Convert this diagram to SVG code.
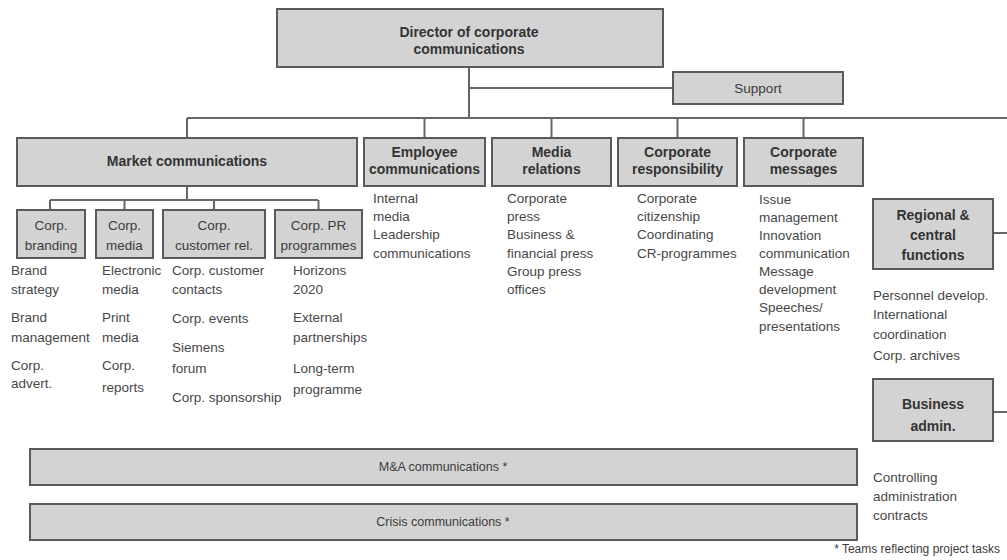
<svg xmlns="http://www.w3.org/2000/svg" width="1007" height="560" viewBox="0 0 1007 560">
  <style>
    .box { fill: #d3d3d3; stroke: #5a5a5a; stroke-width: 2; }
    .wire { fill: none; stroke: #666; stroke-width: 2; }
    .lb { font-family: "Liberation Sans", Arial, sans-serif; font-size: 14px; font-weight: bold; fill: #333; text-anchor: middle; }
    .lr { font-family: "Liberation Sans", Arial, sans-serif; font-size: 13.5px; fill: #3c3c3c; text-anchor: middle; }
    .li { font-family: "Liberation Sans", Arial, sans-serif; font-size: 13.5px; fill: #474747; }
    .bar { font-family: "Liberation Sans", Arial, sans-serif; font-size: 12.5px; fill: #3c3c3c; text-anchor: middle; }
  </style>
  <rect width="1007" height="560" fill="#fff"/>

  <g id="connectors">
    <path class="wire" d="M469 67 V118"/>
    <path class="wire" d="M469 88 H673"/>
    <path class="wire" d="M187 118 H1007"/>
    <path class="wire" d="M187 118 V138 M424.5 118 V138 M551.5 118 V138 M677.5 118 V138 M803.5 118 V138"/>
    <path class="wire" d="M187 186 V200 M50 200 H318 M50 200 V210 M124.5 200 V210 M214 200 V210 M318.5 200 V210"/>
    <path class="wire" d="M993 233 H1007 M993 412 H1007"/>
  </g>

  <g id="director">
    <rect class="box" x="277" y="9" width="386" height="58"/>
    <text class="lb" x="469" y="37">Director of corporate</text>
    <text class="lb" x="469" y="54">communications</text>
  </g>
  <g id="support">
    <rect class="box" x="673" y="72" width="170" height="32"/>
    <text class="lr" x="758" y="93">Support</text>
  </g>

  <g id="market-communications">
    <rect class="box" x="17" y="138" width="340" height="48"/>
    <text class="lb" x="187" y="166">Market communications</text>
  </g>
  <g id="employee-communications">
    <rect class="box" x="364" y="138" width="121" height="48"/>
    <text class="lb" x="424.5" y="157">Employee</text>
    <text class="lb" x="424.5" y="174">communications</text>
    <text class="li" x="373" y="203">Internal</text>
    <text class="li" x="373" y="221">media</text>
    <text class="li" x="373" y="239">Leadership</text>
    <text class="li" x="373" y="258">communications</text>
  </g>
  <g id="media-relations">
    <rect class="box" x="492" y="138" width="119" height="48"/>
    <text class="lb" x="551.5" y="157">Media</text>
    <text class="lb" x="551.5" y="174">relations</text>
    <text class="li" x="507" y="203">Corporate</text>
    <text class="li" x="507" y="221">press</text>
    <text class="li" x="507" y="239">Business &amp;</text>
    <text class="li" x="507" y="258">financial press</text>
    <text class="li" x="507" y="276">Group press</text>
    <text class="li" x="507" y="294">offices</text>
  </g>
  <g id="corporate-responsibility">
    <rect class="box" x="618" y="138" width="119" height="48"/>
    <text class="lb" x="677.5" y="157">Corporate</text>
    <text class="lb" x="677.5" y="174">responsibility</text>
    <text class="li" x="637" y="203">Corporate</text>
    <text class="li" x="637" y="221">citizenship</text>
    <text class="li" x="637" y="239">Coordinating</text>
    <text class="li" x="637" y="258">CR-programmes</text>
  </g>
  <g id="corporate-messages">
    <rect class="box" x="744" y="138" width="119" height="48"/>
    <text class="lb" x="803.5" y="157">Corporate</text>
    <text class="lb" x="803.5" y="174">messages</text>
    <text class="li" x="759" y="204">Issue</text>
    <text class="li" x="759" y="222">management</text>
    <text class="li" x="759" y="240">Innovation</text>
    <text class="li" x="759" y="258">communication</text>
    <text class="li" x="759" y="276">Message</text>
    <text class="li" x="759" y="294">development</text>
    <text class="li" x="759" y="312">Speeches/</text>
    <text class="li" x="759" y="331">presentations</text>
  </g>

  <g id="corp-branding">
    <rect class="box" x="17" y="210" width="68" height="48"/>
    <text class="lr" x="51" y="230">Corp.</text>
    <text class="lr" x="51" y="250">branding</text>
    <text class="li" x="11" y="275">Brand</text>
    <text class="li" x="11" y="294">strategy</text>
    <text class="li" x="11" y="322">Brand</text>
    <text class="li" x="11" y="342">management</text>
    <text class="li" x="11" y="370">Corp.</text>
    <text class="li" x="11" y="388">advert.</text>
  </g>
  <g id="corp-media">
    <rect class="box" x="96" y="210" width="57" height="48"/>
    <text class="lr" x="124.5" y="230">Corp.</text>
    <text class="lr" x="124.5" y="250">media</text>
    <text class="li" x="102" y="275">Electronic</text>
    <text class="li" x="102" y="294">media</text>
    <text class="li" x="102" y="322">Print</text>
    <text class="li" x="102" y="342">media</text>
    <text class="li" x="102" y="370">Corp.</text>
    <text class="li" x="102" y="392">reports</text>
  </g>
  <g id="corp-customer-rel">
    <rect class="box" x="163" y="210" width="102" height="48"/>
    <text class="lr" x="214" y="230">Corp.</text>
    <text class="lr" x="214" y="250">customer rel.</text>
    <text class="li" x="172" y="275">Corp. customer</text>
    <text class="li" x="172" y="294">contacts</text>
    <text class="li" x="172" y="323">Corp. events</text>
    <text class="li" x="172" y="352">Siemens</text>
    <text class="li" x="172" y="373">forum</text>
    <text class="li" x="172" y="402">Corp. sponsorship</text>
  </g>
  <g id="corp-pr-programmes">
    <rect class="box" x="275" y="210" width="87" height="48"/>
    <text class="lr" x="318.5" y="230">Corp. PR</text>
    <text class="lr" x="318.5" y="250">programmes</text>
    <text class="li" x="293" y="275">Horizons</text>
    <text class="li" x="293" y="294">2020</text>
    <text class="li" x="293" y="322">External</text>
    <text class="li" x="293" y="342">partnerships</text>
    <text class="li" x="293" y="373">Long-term</text>
    <text class="li" x="293" y="394">programme</text>
  </g>

  <g id="regional-central-functions">
    <rect class="box" x="873" y="199" width="120" height="70"/>
    <text class="lb" x="933" y="220">Regional &amp;</text>
    <text class="lb" x="933" y="240">central</text>
    <text class="lb" x="933" y="260">functions</text>
    <text class="li" x="873" y="300">Personnel develop.</text>
    <text class="li" x="873" y="319">International</text>
    <text class="li" x="873" y="339">coordination</text>
    <text class="li" x="873" y="360">Corp. archives</text>
  </g>
  <g id="business-admin">
    <rect class="box" x="873" y="379" width="120" height="62"/>
    <text class="lb" x="933" y="409">Business</text>
    <text class="lb" x="933" y="431">admin.</text>
    <text class="li" x="873" y="482">Controlling</text>
    <text class="li" x="873" y="501">administration</text>
    <text class="li" x="873" y="520">contracts</text>
  </g>

  <g id="ma-communications">
    <rect class="box" x="30" y="449" width="827" height="36"/>
    <text class="bar" x="443" y="471">M&amp;A communications *</text>
  </g>
  <g id="crisis-communications">
    <rect class="box" x="30" y="504" width="827" height="36"/>
    <text class="bar" x="443" y="526">Crisis communications *</text>
  </g>

  <text class="bar" x="1000" y="553" style="text-anchor:end;font-size:12px">* Teams reflecting project tasks</text>
</svg>
